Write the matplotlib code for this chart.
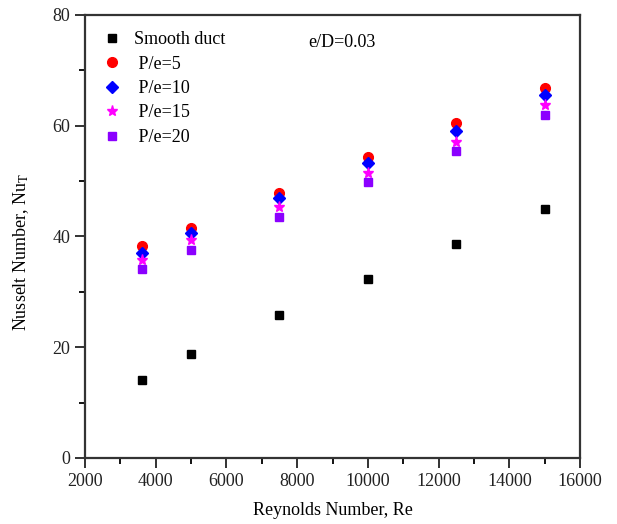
import matplotlib
matplotlib.use("Agg")
import matplotlib.pyplot as plt
from matplotlib.ticker import MultipleLocator

re_vals = [3600, 5000, 7500, 10000, 12500, 15000]
smooth = [14.0, 18.7, 25.8, 32.4, 38.7, 44.9]
pe5 = [38.2, 41.6, 47.9, 54.4, 60.5, 66.8]
pe10 = [37.1, 40.7, 47.0, 53.3, 59.1, 65.6]
pe15 = [35.8, 39.3, 45.3, 51.5, 57.1, 63.7]
pe20 = [34.1, 37.6, 43.6, 49.8, 55.4, 62.0]

plt.rcParams['font.family'] = ['Liberation Serif', 'DejaVu Serif']
plt.rcParams['mathtext.fontset'] = 'stix'

fig = plt.figure(figsize=(6.17, 5.24), dpi=100)
ax = fig.add_axes([85/617, (524-458)/524, (580-85)/617, (458-15)/524])

ax.plot(re_vals, smooth, 's', color='black', ms=6, label='Smooth duct')
ax.plot(re_vals, pe5, 'o', color='red', ms=7, label=' P/e=5')
ax.plot(re_vals, pe10, 'D', color='blue', ms=6, label=' P/e=10')
ax.plot(re_vals, pe15, '*', color='magenta', ms=8, label=' P/e=15')
ax.plot(re_vals, pe20, 's', color='#8B00FF', ms=6, label=' P/e=20')

ax.set_xlim(2000, 16000)
ax.set_ylim(0, 80)
ax.xaxis.set_major_locator(MultipleLocator(2000))
ax.xaxis.set_minor_locator(MultipleLocator(1000))
ax.yaxis.set_major_locator(MultipleLocator(20))
ax.yaxis.set_minor_locator(MultipleLocator(10))
ax.tick_params(which='major', direction='out', length=7, width=1.3, labelsize=13, colors='#222222')
ax.tick_params(which='minor', direction='out', length=4, width=1.3)
for s in ax.spines.values():
    s.set_linewidth(1.6)
    s.set_color('#333333')

ax.set_xlabel('Reynolds Number, Re', fontsize=13, labelpad=9)
ax.set_ylabel(r'Nusselt Number, Nu$_\mathrm{T}$', fontsize=13)
ax.yaxis.set_label_coords(-0.11, 0.465)

ax.text(9270, 75.0, 'e/D=0.03', fontsize=13, ha='center', va='center')

ax.legend(loc='upper left', frameon=False, fontsize=13, handletextpad=0.6,
          labelspacing=0.41, borderaxespad=0.5, bbox_to_anchor=(0.0, 1.0),
          handlelength=1.2)

fig.savefig('out.png', dpi=100)
